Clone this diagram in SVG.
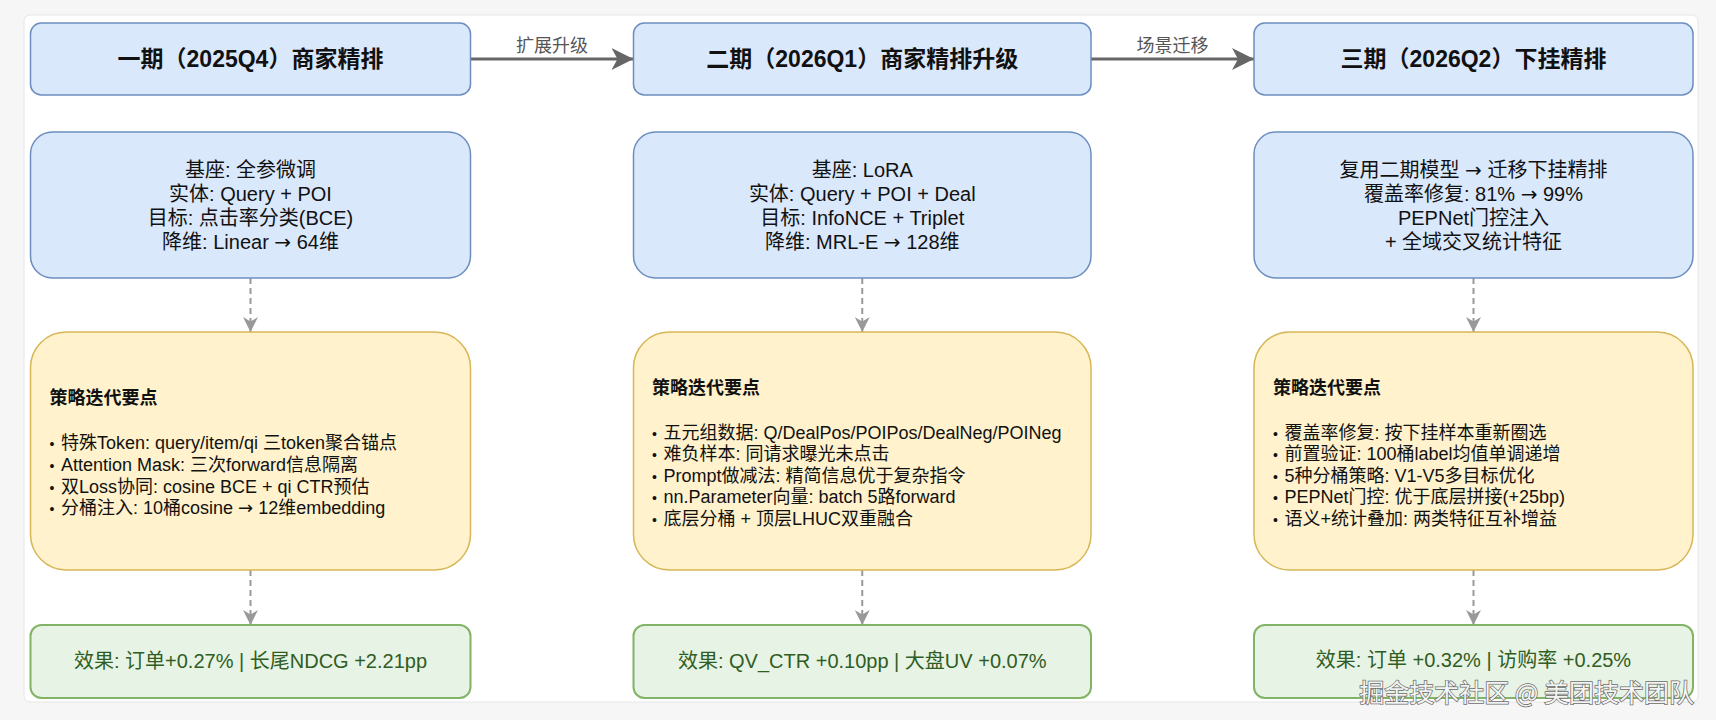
<svg xmlns="http://www.w3.org/2000/svg" width="1716" height="720" viewBox="0 0 1716 720">
  <defs>
    <style>
      text { font-family: "Liberation Sans", "Noto Sans CJK SC", sans-serif; }
      .hdr { fill: #dae8fc; stroke: #6c8ebf; stroke-width: 1.5; }
      .info { fill: #dae8fc; stroke: #6c8ebf; stroke-width: 1.5; }
      .strat { fill: #fff2cc; stroke: #d6b656; stroke-width: 1.5; }
      .res { fill: #e7f3e4; stroke: #82b366; stroke-width: 2; }
      .hdr-t { font-size: 23px; font-weight: bold; fill: #111; text-anchor: middle; }
      .info-t { font-size: 20px; fill: #111; text-anchor: middle; }
      .st-title { font-size: 18px; font-weight: bold; fill: #111; }
      .st-t { font-size: 18px; fill: #111; }
      .b { font-size: 14px; }
      .ar { font-family: "DejaVu Sans", sans-serif; }
      .res-t { font-size: 20px; fill: #2f5d23; text-anchor: middle; }
      .lbl { font-size: 18px; fill: #555; text-anchor: middle; }
      .main-edge { stroke: #666; stroke-width: 3; fill: none; }
      .dash-edge { stroke: #999; stroke-width: 2; stroke-dasharray: 6 4; fill: none; }
      .wm { font-family: "Noto Sans CJK SC", sans-serif; font-size: 25px; text-anchor: end; fill: #ffffff; fill-opacity: 0.92; stroke: #6b6b6b; stroke-width: 1.4; paint-order: stroke; }
    </style>
    <marker id="arrMain" markerUnits="userSpaceOnUse" viewBox="0 0 22 22" refX="22" refY="11" markerWidth="22" markerHeight="22" orient="auto">
      <path d="M0,0 L22,11 L0,22 L6,11 Z" fill="#666"/>
    </marker>
    <marker id="arrDash" markerUnits="userSpaceOnUse" viewBox="0 0 15 15" refX="15" refY="7.5" markerWidth="15" markerHeight="15" orient="auto">
      <path d="M0,0 L15,7.5 L0,15 L4.5,7.5 Z" fill="#999"/>
    </marker>
  </defs>

  <rect x="0" y="0" width="1716" height="720" fill="#f6f6f6"/>
  <rect x="24" y="15" width="1674" height="687" rx="6" fill="#ffffff" stroke="#e6e6e6" stroke-width="1"/>

  <g id="connectors">
    <line class="main-edge" x1="470.5" y1="59" x2="633.5" y2="59" marker-end="url(#arrMain)"/>
    <text class="lbl" x="552" y="52">扩展升级</text>
    <line class="main-edge" x1="1091" y1="59" x2="1254" y2="59" marker-end="url(#arrMain)"/>
    <text class="lbl" x="1172.5" y="52">场景迁移</text>
    <line class="dash-edge" x1="250.5" y1="278" x2="250.5" y2="332" marker-end="url(#arrDash)"/>
    <line class="dash-edge" x1="250.5" y1="570" x2="250.5" y2="625" marker-end="url(#arrDash)"/>
    <line class="dash-edge" x1="862.25" y1="278" x2="862.25" y2="332" marker-end="url(#arrDash)"/>
    <line class="dash-edge" x1="862.25" y1="570" x2="862.25" y2="625" marker-end="url(#arrDash)"/>
    <line class="dash-edge" x1="1473.5" y1="278" x2="1473.5" y2="332" marker-end="url(#arrDash)"/>
    <line class="dash-edge" x1="1473.5" y1="570" x2="1473.5" y2="625" marker-end="url(#arrDash)"/>
  </g>

  <!-- Phase 1 -->
  <g id="phase1-header">
    <rect class="hdr" x="30.5" y="23" width="440" height="72" rx="10.8"/>
    <text class="hdr-t" x="250.5" y="67">一期（2025Q4）商家精排</text>
  </g>
  <g id="phase1-info">
    <rect class="info" x="30.5" y="132" width="440" height="146" rx="21.9"/>
    <text class="info-t" x="250.5" y="177">基座: 全参微调</text>
    <text class="info-t" x="250.5" y="201">实体: Query + POI</text>
    <text class="info-t" x="250.5" y="225">目标: 点击率分类(BCE)</text>
    <text class="info-t" x="250.5" y="249">降维: Linear <tspan class="ar">→</tspan> 64维</text>
  </g>
  <g id="phase1-strategy">
    <rect class="strat" x="30.5" y="332" width="440" height="238" rx="35.7"/>
    <text class="st-title" x="49.5" y="404">策略迭代要点</text>
    <text class="st-t" x="49.5" y="449"><tspan class="b">•</tspan><tspan x="61">特殊Token: query/item/qi 三token聚合锚点</tspan></text>
    <text class="st-t" x="49.5" y="471"><tspan class="b">•</tspan><tspan x="61">Attention Mask: 三次forward信息隔离</tspan></text>
    <text class="st-t" x="49.5" y="492.5"><tspan class="b">•</tspan><tspan x="61">双Loss协同: cosine BCE + qi CTR预估</tspan></text>
    <text class="st-t" x="49.5" y="514"><tspan class="b">•</tspan><tspan x="61">分桶注入: 10桶cosine <tspan class="ar">→</tspan> 12维embedding</tspan></text>
  </g>
  <g id="phase1-result">
    <rect class="res" x="30.5" y="625" width="440" height="73" rx="11"/>
    <text class="res-t" x="250.5" y="668">效果: 订单+0.27% | 长尾NDCG +2.21pp</text>
  </g>

  <!-- Phase 2 -->
  <g id="phase2-header">
    <rect class="hdr" x="633.5" y="23" width="457.5" height="72" rx="10.8"/>
    <text class="hdr-t" x="862.25" y="67">二期（2026Q1）商家精排升级</text>
  </g>
  <g id="phase2-info">
    <rect class="info" x="633.5" y="132" width="457.5" height="146" rx="21.9"/>
    <text class="info-t" x="862.25" y="177">基座: LoRA</text>
    <text class="info-t" x="862.25" y="201">实体: Query + POI + Deal</text>
    <text class="info-t" x="862.25" y="225">目标: InfoNCE + Triplet</text>
    <text class="info-t" x="862.25" y="249">降维: MRL-E <tspan class="ar">→</tspan> 128维</text>
  </g>
  <g id="phase2-strategy">
    <rect class="strat" x="633.5" y="332" width="457.5" height="238" rx="35.7"/>
    <text class="st-title" x="652" y="393.5">策略迭代要点</text>
    <text class="st-t" x="652" y="438.5"><tspan class="b">•</tspan><tspan x="663.5">五元组数据: Q/DealPos/POIPos/DealNeg/POINeg</tspan></text>
    <text class="st-t" x="652" y="460"><tspan class="b">•</tspan><tspan x="663.5">难负样本: 同请求曝光未点击</tspan></text>
    <text class="st-t" x="652" y="481.5"><tspan class="b">•</tspan><tspan x="663.5">Prompt做减法: 精简信息优于复杂指令</tspan></text>
    <text class="st-t" x="652" y="503"><tspan class="b">•</tspan><tspan x="663.5">nn.Parameter向量: batch 5路forward</tspan></text>
    <text class="st-t" x="652" y="525"><tspan class="b">•</tspan><tspan x="663.5">底层分桶 + 顶层LHUC双重融合</tspan></text>
  </g>
  <g id="phase2-result">
    <rect class="res" x="633.5" y="625" width="457.5" height="73" rx="11"/>
    <text class="res-t" x="862.25" y="668">效果: QV_CTR +0.10pp | 大盘UV +0.07%</text>
  </g>

  <!-- Phase 3 -->
  <g id="phase3-header">
    <rect class="hdr" x="1254" y="23" width="439" height="72" rx="10.8"/>
    <text class="hdr-t" x="1473.5" y="67">三期（2026Q2）下挂精排</text>
  </g>
  <g id="phase3-info">
    <rect class="info" x="1254" y="132" width="439" height="146" rx="21.9"/>
    <text class="info-t" x="1473.5" y="177">复用二期模型 <tspan class="ar">→</tspan> 迁移下挂精排</text>
    <text class="info-t" x="1473.5" y="201">覆盖率修复: 81% <tspan class="ar">→</tspan> 99%</text>
    <text class="info-t" x="1473.5" y="225">PEPNet门控注入</text>
    <text class="info-t" x="1473.5" y="249">+ 全域交叉统计特征</text>
  </g>
  <g id="phase3-strategy">
    <rect class="strat" x="1254" y="332" width="439" height="238" rx="35.7"/>
    <text class="st-title" x="1273" y="393.5">策略迭代要点</text>
    <text class="st-t" x="1273" y="438.5"><tspan class="b">•</tspan><tspan x="1284.5">覆盖率修复: 按下挂样本重新圈选</tspan></text>
    <text class="st-t" x="1273" y="460"><tspan class="b">•</tspan><tspan x="1284.5">前置验证: 100桶label均值单调递增</tspan></text>
    <text class="st-t" x="1273" y="481.5"><tspan class="b">•</tspan><tspan x="1284.5">5种分桶策略: V1-V5多目标优化</tspan></text>
    <text class="st-t" x="1273" y="503"><tspan class="b">•</tspan><tspan x="1284.5">PEPNet门控: 优于底层拼接(+25bp)</tspan></text>
    <text class="st-t" x="1273" y="525"><tspan class="b">•</tspan><tspan x="1284.5">语义+统计叠加: 两类特征互补增益</tspan></text>
  </g>
  <g id="phase3-result">
    <rect class="res" x="1254" y="625" width="439" height="73" rx="11"/>
    <text class="res-t" x="1473.5" y="667">效果: 订单 +0.32% | 访购率 +0.25%</text>
  </g>

  <g id="watermark">
    <text class="wm" x="1694" y="702">掘金技术社区 @ 美团技术团队</text>
  </g>
</svg>
